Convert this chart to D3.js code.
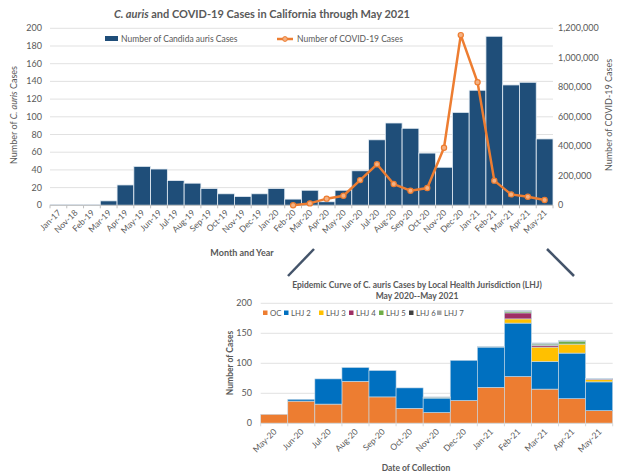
<!DOCTYPE html>
<html>
<head>
<meta charset="utf-8">
<script src="https://cdn.jsdelivr.net/npm/d3@7"></script>
<style>
	body { margin: 0; background: #fff; }
	text { font-family: Lato, "Open Sans", sans-serif; fill: #595959; }
</style>
</head>
<body>
<script>
// top chart data
var months = ["Jan-17","Nov-18","Feb-19","Mar-19","Apr-19","May-19","Jun-19","Jul-19","Aug-19","Sep-19",
	"Oct-19","Nov-19","Dec-19","Jan-20","Feb-20","Mar-20","Apr-20","May-20","Jun-20","Jul-20",
	"Aug-20","Sep-20","Oct-20","Nov-20","Dec-20","Jan-21","Feb-21","Mar-21","Apr-21","May-21"];
var aurisCases = [1,1,1,5,23,44,41,28,25,19,13,10,13,19,7,17,4,17,39,74,93,87,59,43,105,130,191,136,139,75];
var covidMonths = ["Feb-20","Mar-20","Apr-20","May-20","Jun-20","Jul-20","Aug-20","Sep-20","Oct-20","Nov-20",
	"Dec-20","Jan-21","Feb-21","Mar-21","Apr-21","May-21"];
var covidCases = [0,13000,45000,65000,171000,278000,144000,99000,117000,390000,1154000,834000,167000,74000,58000,36000];
var leftTicks = [0,20,40,60,80,100,120,140,160,180,200];
var rightTicks = [0,200000,400000,600000,800000,1000000,1200000];

// bottom chart data
var lhjMonths = ["May-20","Jun-20","Jul-20","Aug-20","Sep-20","Oct-20","Nov-20","Dec-20","Jan-21","Feb-21","Mar-21","Apr-21","May-21"];
var lhjKeys = ["OC","LHJ 2","LHJ 3","LHJ 4","LHJ 5","LHJ 6","LHJ 7"];
var lhjOC   = [15,37,32,70,44,25,18,38,60,78,57,41,21];
var lhj2    = [0,3,42,23,44,34,24,67,67,89,46,76,48];
var lhj3    = [0,0,0,0,0,0,0,0,0,7,24,15,4];
var lhj4    = [0,0,0,0,0,0,0,0,0,10,3,0,1];
var lhj5    = [0,0,0,0,0,0,1,0,0,2,2,5,0];
var lhj6    = [0,0,0,0,0,0,0,0,0,0,1,0,0];
var lhj7    = [0,0,0,0,0,0,1,0,1,2,1,1,1];
var lhjColors = ["#ED7D31","#0070C0","#FFC000","#9E2F64","#70AD47","#404040","#A5A5A5"];
var bottomTicks = [0,50,100,150,200];

window.onload = function(){
	var w = 617, h = 473;
	var svg = d3.select("body").append("svg")
		.attr("width", w)
		.attr("height", h);

	// ---------- top chart ----------
	var x = d3.scaleBand().domain(months).range([50, 553]).padding(0);
	var yL = d3.scaleLinear().domain([0, 200]).range([205.3, 28.3]);
	var yR = d3.scaleLinear().domain([0, 1200000]).range([205.3, 28.3]);

	svg.append("g").attr("class", "grid")
		.selectAll("line").data(leftTicks.slice(1)).enter().append("line")
		.attr("x1", 50).attr("x2", 553)
		.attr("y1", function(d){ return yL(d); })
		.attr("y2", function(d){ return yL(d); })
		.style("stroke", "#d9d9d9").style("stroke-width", 0.8);

	svg.append("g").attr("class", "bars")
		.selectAll("rect").data(aurisCases).enter().append("rect")
		.attr("x", function(d, i){ return x(months[i]); })
		.attr("width", x.bandwidth())
		.attr("y", function(d){ return yL(d); })
		.attr("height", function(d){ return yL(0) - yL(d); })
		.style("fill", "#1F4E79")
		.style("stroke", "#e6eef5")
		.style("stroke-width", 0.8);

	// baseline + ticks
	svg.append("line").attr("x1", 50).attr("x2", 553).attr("y1", yL(0)).attr("y2", yL(0))
		.style("stroke", "#bfbfbf");
	svg.append("g").selectAll("line").data(d3.range(months.length + 1)).enter().append("line")
		.attr("x1", function(i){ return 50 + i * x.bandwidth(); })
		.attr("x2", function(i){ return 50 + i * x.bandwidth(); })
		.attr("y1", yL(0)).attr("y2", yL(0) + 3)
		.style("stroke", "#bfbfbf");

	var line = d3.line()
		.x(function(d, i){ return x(covidMonths[i]) + x.bandwidth() / 2; })
		.y(function(d){ return yR(d); });
	svg.append("path").datum(covidCases)
		.attr("d", line)
		.style("fill", "none")
		.style("stroke", "#ED7D31")
		.style("stroke-width", 2.5);
	svg.append("g").selectAll("circle").data(covidCases).enter().append("circle")
		.attr("cx", function(d, i){ return x(covidMonths[i]) + x.bandwidth() / 2; })
		.attr("cy", function(d){ return yR(d); })
		.attr("r", 2.6)
		.style("fill", "#F4B183")
		.style("stroke", "#ED7D31")
		.style("stroke-width", 1.2);

	// axes labels
	svg.append("g").selectAll("text").data(leftTicks).enter().append("text")
		.attr("x", 42).attr("y", function(d){ return yL(d) + 3; })
		.attr("text-anchor", "end")
		.style("font-size", "9px")
		.text(function(d){ return d; });
	var fmt = d3.format(",");
	svg.append("g").selectAll("text").data(rightTicks).enter().append("text")
		.attr("x", 558).attr("y", function(d){ return yR(d) + 3; })
		.style("font-size", "9px")
		.text(function(d){ return fmt(d); });

	svg.append("g").selectAll("text").data(months).enter().append("text")
		.attr("text-anchor", "end")
		.attr("transform", function(d){
			return "translate(" + (x(d) + x.bandwidth() / 2 + 3) + "," + (yL(0) + 8) + ") rotate(-45)";
		})
		.style("font-size", "8.5px")
		.text(function(d){ return d; });

	var lt = svg.append("text")
		.attr("transform", "translate(17,115) rotate(-90)")
		.attr("text-anchor", "middle")
		.style("font-size", "9px");
	lt.append("tspan").text("Number of ");
	lt.append("tspan").style("font-style", "italic").text("C. auris");
	lt.append("tspan").text(" Cases");

	svg.append("text")
		.attr("transform", "translate(612,115) rotate(-90)")
		.attr("text-anchor", "middle")
		.style("font-size", "9px")
		.text("Number of COVID-19 Cases");

	svg.append("text")
		.attr("x", 242).attr("y", 256)
		.attr("text-anchor", "middle")
		.style("font-size", "9px").style("font-weight", "bold")
		.text("Month and Year");

	var title = svg.append("text")
		.attr("x", 262).attr("y", 18)
		.attr("text-anchor", "middle")
		.style("font-size", "11px").style("font-weight", "bold");
	title.append("tspan").style("font-style", "italic").text("C. auris");
	title.append("tspan").text(" and COVID-19 Cases in California through May 2021");

	// legend top
	svg.append("rect").attr("x", 105).attr("y", 36).attr("width", 13).attr("height", 5)
		.style("fill", "#1F4E79");
	svg.append("text").attr("x", 121).attr("y", 42).style("font-size", "8.5px")
		.text("Number of Candida auris Cases");
	svg.append("line").attr("x1", 277).attr("x2", 293).attr("y1", 39).attr("y2", 39)
		.style("stroke", "#ED7D31").style("stroke-width", 2.5);
	svg.append("circle").attr("cx", 285).attr("cy", 39).attr("r", 2.4)
		.style("fill", "#F4B183").style("stroke", "#ED7D31");
	svg.append("text").attr("x", 297).attr("y", 42).style("font-size", "8.5px")
		.text("Number of COVID-19 Cases");

	// connector lines
	svg.append("line").attr("x1", 314).attr("y1", 249).attr("x2", 288).attr("y2", 276)
		.style("stroke", "#44546A").style("stroke-width", 2.5);
	svg.append("line").attr("x1", 547).attr("y1", 249).attr("x2", 574).attr("y2", 276)
		.style("stroke", "#44546A").style("stroke-width", 2.5);

	// ---------- bottom chart ----------
	var x2 = d3.scaleBand().domain(lhjMonths).range([260.7, 612.7]).padding(0);
	var y2 = d3.scaleLinear().domain([0, 200]).range([423.3, 303.3]);

	svg.append("g").selectAll("line").data(bottomTicks.slice(1)).enter().append("line")
		.attr("x1", 260.7).attr("x2", 612.7)
		.attr("y1", function(d){ return y2(d); })
		.attr("y2", function(d){ return y2(d); })
		.style("stroke", "#d9d9d9").style("stroke-width", 0.8);

	var series = [lhjOC, lhj2, lhj3, lhj4, lhj5, lhj6, lhj7];
	var table = lhjMonths.map(function(m, i){
		var row = { month: m };
		lhjKeys.forEach(function(k, j){ row[k] = series[j][i]; });
		return row;
	});
	var stacked = d3.stack().keys(lhjKeys)(table);

	svg.append("g").selectAll("g").data(stacked).enter().append("g")
		.style("fill", function(d, i){ return lhjColors[i]; })
		.selectAll("rect").data(function(d){ return d; }).enter().append("rect")
		.attr("x", function(d){ return x2(d.data.month); })
		.attr("width", x2.bandwidth())
		.attr("y", function(d){ return y2(d[1]); })
		.attr("height", function(d){ return y2(d[0]) - y2(d[1]); })
		.style("stroke", "#c9dbe8")
		.style("stroke-width", 0.6);

	svg.append("line").attr("x1", 260.7).attr("x2", 612.7).attr("y1", y2(0)).attr("y2", y2(0))
		.style("stroke", "#d9d9d9");
	svg.append("g").selectAll("line").data(d3.range(lhjMonths.length + 1)).enter().append("line")
		.attr("x1", function(i){ return 260.7 + i * x2.bandwidth(); })
		.attr("x2", function(i){ return 260.7 + i * x2.bandwidth(); })
		.attr("y1", y2(0)).attr("y2", y2(0) + 3)
		.style("stroke", "#d9d9d9");

	svg.append("g").selectAll("text").data(bottomTicks).enter().append("text")
		.attr("x", 252).attr("y", function(d){ return y2(d) + 3; })
		.attr("text-anchor", "end")
		.style("font-size", "9px")
		.text(function(d){ return d; });

	svg.append("g").selectAll("text").data(lhjMonths).enter().append("text")
		.attr("text-anchor", "end")
		.attr("transform", function(d){
			return "translate(" + (x2(d) + x2.bandwidth() / 2 + 3) + "," + (y2(0) + 9) + ") rotate(-45)";
		})
		.style("font-size", "8.5px")
		.text(function(d){ return d; });

	svg.append("text")
		.attr("transform", "translate(233,363) rotate(-90)")
		.attr("text-anchor", "middle")
		.style("font-size", "8.5px").style("font-weight", "bold")
		.text("Number of Cases");

	svg.append("text")
		.attr("x", 416).attr("y", 471)
		.attr("text-anchor", "middle")
		.style("font-size", "8.5px").style("font-weight", "bold")
		.text("Date of Collection");

	svg.append("text")
		.attr("x", 417).attr("y", 288)
		.attr("text-anchor", "middle")
		.style("font-size", "8.5px").style("font-weight", "bold")
		.text("Epidemic Curve of C. auris Cases  by Local Health Jurisdiction (LHJ)");
	svg.append("text")
		.attr("x", 417).attr("y", 299)
		.attr("text-anchor", "middle")
		.style("font-size", "8.5px").style("font-weight", "bold")
		.text("May 2020--May 2021");

	// legend bottom
	var legendX = [263, 284, 319, 349, 379, 409, 437];
	var lg = svg.append("g").selectAll("g").data(lhjKeys).enter().append("g")
		.attr("transform", function(d, i){ return "translate(" + legendX[i] + ",313)"; });
	lg.append("rect").attr("x", 0).attr("y", -2.5).attr("width", 4.5).attr("height", 4.5)
		.style("fill", function(d, i){ return lhjColors[i]; });
	lg.append("text").attr("x", 7).attr("y", 3).style("font-size", "7.8px")
		.text(function(d){ return d; });
};
</script>
</body>
</html>
